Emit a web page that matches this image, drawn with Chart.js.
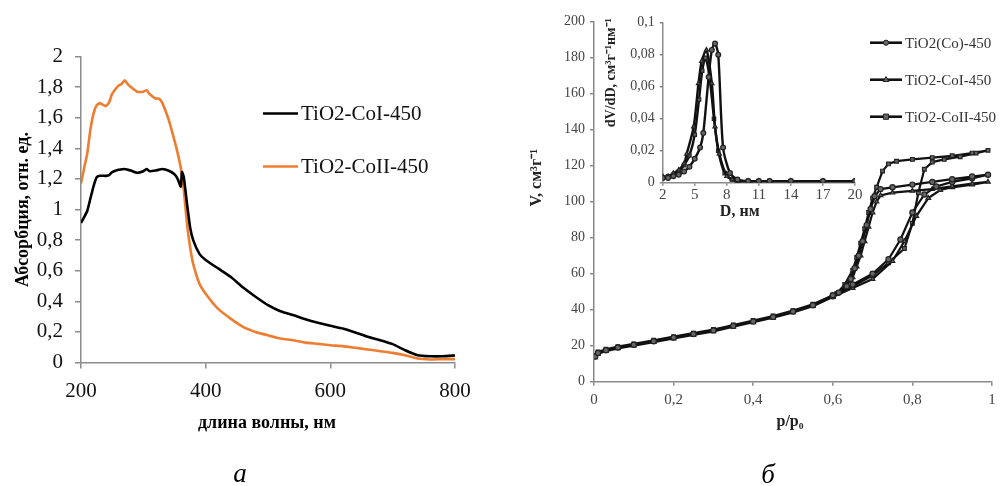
<!DOCTYPE html>
<html>
<head>
<meta charset="utf-8">
<script src="https://cdn.jsdelivr.net/npm/chart.js@4.4.1/dist/chart.umd.min.js"></script>
<style>
  html, body { margin: 0; padding: 0; background: #fff; }
  #wrap { position: relative; width: 1007px; height: 486px; overflow: hidden; }
  canvas { position: absolute; left: 0; top: 0; }
</style>
</head>
<body>
<div id="wrap">
  <canvas id="chartA" width="1007" height="486"></canvas>
  <canvas id="chartB" width="1007" height="486"></canvas>
  <canvas id="chartInset" width="1007" height="486"></canvas>
</div>
<script>
// ---- panel a: absorption spectra ----
var WAVELENGTH = [200, 205, 210, 215, 220, 225, 230, 240, 245, 250, 260, 265, 270, 275, 280, 290, 300, 305, 310, 320,
    325, 330, 340, 350, 355, 360, 362, 365, 370, 375, 380, 390, 400, 420, 440, 460, 480, 500, 520, 540,
    560, 580, 600, 620, 640, 660, 680, 700, 720, 740, 760, 780, 800];
var ABS_COI = [0.912, 0.95, 0.99, 1.07, 1.15, 1.21, 1.22, 1.22, 1.225, 1.245, 1.26, 1.262, 1.265, 1.26, 1.255, 1.24, 1.25, 1.265, 1.25, 1.255,
    1.26, 1.265, 1.255, 1.23, 1.2, 1.15, 1.245, 1.21, 1.04, 0.885, 0.8, 0.71, 0.67, 0.615, 0.56, 0.49, 0.43, 0.375, 0.335, 0.31,
    0.283, 0.26, 0.24, 0.222, 0.196, 0.168, 0.146, 0.12, 0.08, 0.048, 0.041, 0.041, 0.046];
var ABS_COII = [1.17, 1.27, 1.365, 1.52, 1.625, 1.68, 1.695, 1.675, 1.7, 1.755, 1.81, 1.82, 1.845, 1.82, 1.8, 1.77, 1.77, 1.78, 1.755, 1.725,
    1.725, 1.7, 1.595, 1.45, 1.37, 1.275, 1.22, 1.125, 0.91, 0.755, 0.645, 0.515, 0.45, 0.35, 0.287, 0.233, 0.2, 0.178, 0.157, 0.146,
    0.13, 0.122, 0.113, 0.107, 0.096, 0.085, 0.074, 0.063, 0.048, 0.026, 0.02, 0.022, 0.022];
var LABELS_A = ['TiO2-CoI-450', 'TiO2-CoII-450'];

// ---- panel b: N2 isotherms (adsorption then desorption) ----
var P_CO = [0.003, 0.01, 0.03, 0.06, 0.1, 0.15, 0.2, 0.25, 0.3, 0.35, 0.4, 0.45, 0.5, 0.55, 0.6, 0.65, 0.7, 0.74, 0.77, 0.8, 0.83, 0.86, 0.9, 0.95, 0.99,
    0.95, 0.9, 0.85, 0.8, 0.75, 0.72, 0.705, 0.695, 0.685, 0.675, 0.665, 0.655, 0.645, 0.635, 0.615, 0.6];
var V_CO = [14, 16, 17.5, 19, 20.5, 22.5, 24.5, 26.5, 28.5, 31, 33.5, 36, 39, 42.5, 47.5, 54, 60, 68, 79, 94, 104, 108.5, 111, 113, 115,
    114, 112.5, 111, 109.5, 108, 107, 103, 96, 87, 78, 70, 63, 57, 53, 49.5, 48];
var P_COI = [0.003, 0.01, 0.03, 0.06, 0.1, 0.15, 0.2, 0.25, 0.3, 0.35, 0.4, 0.45, 0.5, 0.55, 0.6, 0.65, 0.7, 0.75, 0.78, 0.81, 0.84, 0.87, 0.9, 0.95, 0.99,
    0.95, 0.9, 0.85, 0.8, 0.75, 0.72, 0.71, 0.7, 0.69, 0.68, 0.67, 0.66, 0.65, 0.63, 0.61, 0.6];
var V_COI = [13.5, 15.5, 17, 18.5, 20, 22, 24, 26, 28, 30.5, 33, 35.5, 38.5, 42, 47, 52, 57, 67, 78, 92, 102, 106.5, 108, 109.5, 111,
    110, 108.5, 107, 106, 105, 103.5, 100, 94, 86, 78, 70, 64, 58, 53, 49, 47.5];
var P_COII = [0.003, 0.01, 0.03, 0.06, 0.1, 0.15, 0.2, 0.25, 0.3, 0.35, 0.4, 0.45, 0.5, 0.55, 0.6, 0.65, 0.7, 0.74, 0.78, 0.8, 0.815, 0.83, 0.85, 0.88, 0.92, 0.96, 0.99,
    0.95, 0.9, 0.85, 0.8, 0.76, 0.74, 0.725, 0.71, 0.7, 0.69, 0.68, 0.67, 0.66, 0.65, 0.63, 0.61, 0.6];
var V_COII = [14.5, 16.5, 18, 19.5, 21, 23, 25, 27, 29, 31.5, 34, 36.5, 39.5, 43, 48, 53, 59, 66, 74, 88, 105, 118, 122, 123.5, 125, 127, 128.5,
    127, 125.5, 124.5, 123.5, 122.5, 121, 117, 108, 102, 94, 85, 77, 69, 62, 54, 49, 47.5];
var LABELS_B = ['TiO2(Co)-450', 'TiO2-CoI-450', 'TiO2-CoII-450'];
var STYLES_B = ['circle', 'triangle', 'rect'];

// ---- inset: pore size distribution ----
var D_CO = [2, 2.5, 3, 3.5, 4, 4.5, 5, 5.5, 5.8, 6.3, 6.6, 6.9, 7.2, 7.65, 8.3, 9, 10, 11, 12, 14, 17, 20];
var DV_CO = [0.003, 0.003, 0.004, 0.005, 0.007, 0.01, 0.015, 0.022, 0.031, 0.066, 0.083, 0.087, 0.08, 0.022, 0.006, 0.002, 0.001, 0.001, 0.001, 0.001, 0.001, 0.001];
var D_COI = [2, 2.5, 3, 3.5, 4, 4.25, 4.9, 5.35, 5.65, 6.1, 6.6, 6.9, 7.3, 8, 8.5, 9, 10, 11, 12, 14, 17, 20];
var DV_COI = [0.004, 0.004, 0.006, 0.008, 0.012, 0.018, 0.035, 0.062, 0.076, 0.083, 0.062, 0.035, 0.018, 0.004, 0.002, 0.001, 0.001, 0.001, 0.001, 0.001, 0.001, 0.001];
var D_COII = [2, 2.5, 3, 3.5, 4, 4.5, 5, 5.4, 5.7, 6, 6.4, 6.8, 7.2, 7.8, 8.5, 9, 10, 11, 12, 14, 17, 20];
var DV_COII = [0.003, 0.004, 0.005, 0.007, 0.011, 0.017, 0.03, 0.052, 0.07, 0.078, 0.065, 0.04, 0.02, 0.006, 0.002, 0.001, 0.001, 0.001, 0.001, 0.001, 0.001, 0.001];
var D_TICKS = [2, 5, 8, 11, 14, 17, 20];

var SERIF = "'Liberation Serif', 'Times New Roman', serif";

function comma(v) {
    return String(Math.round(v * 1000) / 1000).replace('.', ',');
}

function pairs(xs, ys) {
    return xs.map(function (x, i) { return {x: x, y: ys[i]}; });
}

function fixWidth(w) { return function (scale) { scale.width = w; }; }
function fixHeight(h) { return function (scale) { scale.height = h; }; }

function drawMarker(ctx, style, x, y, r) {
    ctx.beginPath();
    if (style === 'circle') {
        ctx.arc(x, y, r, 0, Math.PI * 2);
    } else if (style === 'triangle') {
        ctx.moveTo(x, y - r * 1.2);
        ctx.lineTo(x + r * 1.1, y + r * 0.7);
        ctx.lineTo(x - r * 1.1, y + r * 0.7);
        ctx.closePath();
    } else {
        ctx.rect(x - r, y - r, r * 2, r * 2);
    }
    ctx.fill();
    ctx.stroke();
}

// titles and legends, placed from the chart area
var overlay = {
    id: 'overlay',
    afterDraw: function (chart, args, opts) {
        var ctx = chart.ctx;
        var area = chart.chartArea;
        (opts.texts || []).forEach(function (t) {
            ctx.save();
            ctx.font = t.font;
            ctx.fillStyle = t.color || '#000';
            ctx.textAlign = 'center';
            ctx.textBaseline = 'middle';
            ctx.translate(area.left + t.dx, area.top + t.dy);
            if (t.rotate) ctx.rotate(t.rotate);
            ctx.fillText(t.text, 0, 0);
            ctx.restore();
        });
        var lg = opts.legend;
        if (!lg) return;
        chart.data.datasets.forEach(function (ds, i) {
            var y = area.top + lg.dy + i * lg.gap;
            var x0 = area.left + lg.dx;
            ctx.save();
            ctx.strokeStyle = ds.borderColor;
            ctx.lineWidth = lg.lineWidth;
            ctx.beginPath();
            ctx.moveTo(x0, y);
            ctx.lineTo(x0 + lg.len, y);
            ctx.stroke();
            if (lg.markers) {
                ctx.lineWidth = 1;
                ctx.fillStyle = ds.pointBackgroundColor;
                ctx.strokeStyle = ds.pointBorderColor;
                drawMarker(ctx, ds.pointStyle, x0 + lg.len / 2, y, 2.6);
            }
            ctx.font = lg.font;
            ctx.fillStyle = lg.color;
            ctx.textAlign = 'left';
            ctx.textBaseline = 'middle';
            ctx.fillText(ds.label, x0 + lg.len + 3, y + 1);
            ctx.restore();
        });
    }
};

Chart.defaults.font.family = SERIF;
Chart.defaults.animation = false;
Chart.defaults.responsive = false;
Chart.defaults.plugins.legend.display = false;
Chart.defaults.plugins.tooltip.enabled = false;

function axis(opts) {
    var scale = {
        type: 'linear',
        border: {display: true, color: opts.axisColor, width: 1.5},
        grid: {display: true, drawOnChartArea: false, drawTicks: true, tickLength: opts.tickLength,
            color: opts.axisColor, lineWidth: 1.5},
        ticks: {font: {size: opts.fontSize, family: SERIF}, color: opts.tickColor, padding: opts.pad,
            stepSize: opts.step, callback: function (v) { return comma(v); }}
    };
    return Object.assign(scale, opts.extra);
}

// ---- panel a ----
new Chart(document.getElementById('chartA'), {
    type: 'scatter',
    data: {
        datasets: [
            {label: LABELS_A[0], data: pairs(WAVELENGTH, ABS_COI), showLine: true, borderColor: '#000000',
                borderWidth: 2.6, pointRadius: 0, tension: 0.15},
            {label: LABELS_A[1], data: pairs(WAVELENGTH, ABS_COII), showLine: true, borderColor: '#ED7D31',
                borderWidth: 2.6, pointRadius: 0, tension: 0.15}
        ]
    },
    options: {
        layout: {padding: {left: 11, right: 552, top: 56.5, bottom: 83.5}},
        scales: {
            x: axis({axisColor: '#8c8c8c', tickLength: 6, fontSize: 21, tickColor: '#111', pad: 10, step: 200,
                extra: {min: 200, max: 800, afterFit: fixHeight(40)}}),
            y: axis({axisColor: '#8c8c8c', tickLength: 6, fontSize: 21, tickColor: '#111', pad: 12, step: 0.2,
                extra: {min: 0, max: 2, afterFit: fixWidth(70)}})
        },
        plugins: {
            overlay: {
                texts: [
                    {text: 'Абсорбция, отн. ед.', dx: -58, dy: 153, rotate: -Math.PI / 2,
                        font: 'bold 18px ' + SERIF},
                    {text: 'длина волны, нм', dx: 186, dy: 367, font: 'bold 18px ' + SERIF},
                    {text: 'а', dx: 159, dy: 418, font: 'italic 27px ' + SERIF}
                ],
                legend: {dx: 182, dy: 57, gap: 53, len: 35, lineWidth: 2.6, font: '21px ' + SERIF, color: '#111'}
            }
        }
    },
    plugins: [overlay]
});

// ---- panel b, main isotherms ----
var isoData = [[P_CO, V_CO], [P_COI, V_COI], [P_COII, V_COII]];
new Chart(document.getElementById('chartB'), {
    type: 'scatter',
    data: {
        datasets: isoData.map(function (d, i) {
            return {label: LABELS_B[i], data: pairs(d[0], d[1]), showLine: true, borderColor: '#111',
                borderWidth: 2.2, pointStyle: STYLES_B[i], pointRadius: 2.6, pointBorderWidth: 1.2,
                pointBorderColor: '#222', pointBackgroundColor: '#666', tension: 0};
        })
    },
    options: {
        layout: {padding: {left: 554, right: 15, top: 21.7, bottom: 74.3}},
        scales: {
            x: axis({axisColor: '#8a8a8a', tickLength: 4, fontSize: 15, tickColor: '#444', pad: 5, step: 0.2,
                extra: {min: 0, max: 1, afterFit: fixHeight(30)}}),
            y: axis({axisColor: '#8a8a8a', tickLength: 4, fontSize: 14, tickColor: '#444', pad: 5, step: 20,
                extra: {min: 0, max: 200, afterFit: fixWidth(40)}})
        },
        plugins: {
            overlay: {
                texts: [
                    {text: 'V, см³г⁻¹', dx: -57, dy: 156, rotate: -Math.PI / 2, font: 'bold 16px ' + SERIF, color: '#222'},
                    {text: 'p/p₀', dx: 196, dy: 400, font: 'bold 16px ' + SERIF, color: '#222'},
                    {text: 'б', dx: 174, dy: 454, font: 'italic 27px ' + SERIF}
                ],
                legend: {dx: 276, dy: 21, gap: 37, len: 32, lineWidth: 2.6, markers: true,
                    font: '15px ' + SERIF, color: '#333'}
            }
        }
    },
    plugins: [overlay]
});

// ---- panel b, inset ----
var psdData = [[D_CO, DV_CO], [D_COI, DV_COI], [D_COII, DV_COII]];
new Chart(document.getElementById('chartInset'), {
    type: 'scatter',
    data: {
        datasets: psdData.map(function (d, i) {
            return {label: LABELS_B[i], data: pairs(d[0], d[1]), showLine: true, borderColor: '#111',
                borderWidth: 2.4, pointStyle: STYLES_B[i], pointRadius: 2.4, pointBorderWidth: 1.2,
                pointBorderColor: '#222', pointBackgroundColor: '#666', tension: 0.25};
        })
    },
    options: {
        layout: {padding: {left: 622.7, right: 152, top: 22.7, bottom: 273.3}},
        scales: {
            x: axis({axisColor: '#8a8a8a', tickLength: 3, fontSize: 15, tickColor: '#444', pad: 0,
                extra: {min: 2, max: 20, afterFit: fixHeight(30),
                    afterBuildTicks: function (scale) {
                        scale.ticks = D_TICKS.map(function (v) { return {value: v}; });
                    }}}),
            y: axis({axisColor: '#8a8a8a', tickLength: 3, fontSize: 14, tickColor: '#444', pad: 5, step: 0.02,
                extra: {min: 0, max: 0.1, afterFit: fixWidth(40)}})
        },
        plugins: {
            overlay: {
                texts: [
                    {text: 'dV/dD, см³г⁻¹нм⁻¹', dx: -51, dy: 50, rotate: -Math.PI / 2,
                        font: 'bold 14px ' + SERIF, color: '#222'},
                    {text: 'D, нм', dx: 77, dy: 189, font: 'bold 16px ' + SERIF, color: '#222'}
                ]
            }
        }
    },
    plugins: [overlay]
});
</script>
</body>
</html>
